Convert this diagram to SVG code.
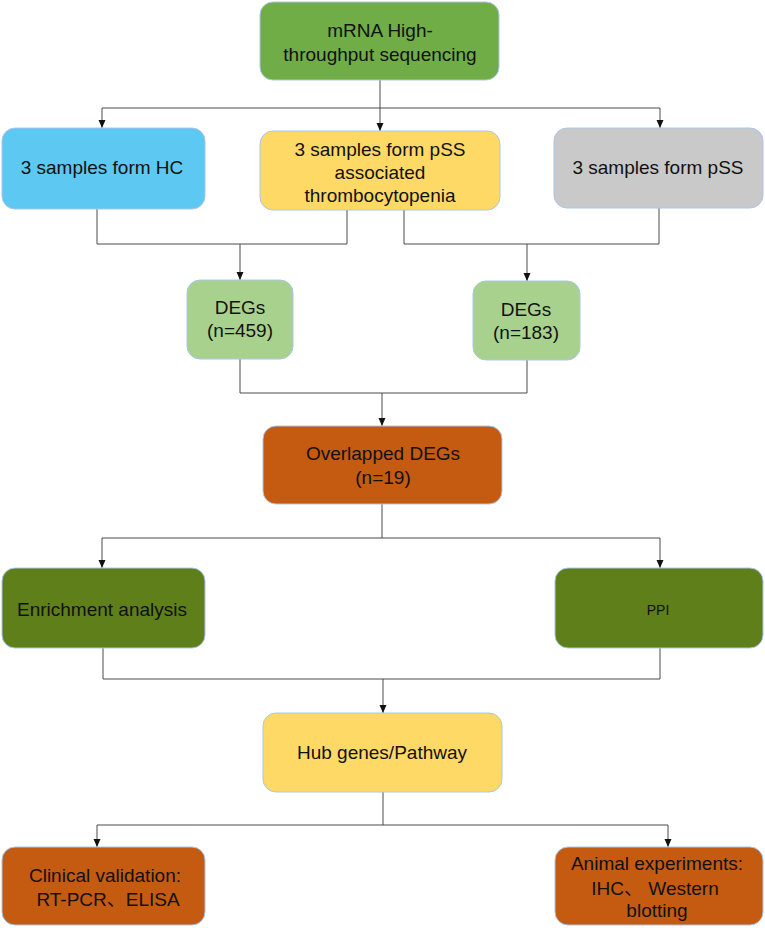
<svg xmlns="http://www.w3.org/2000/svg" width="765" height="928" viewBox="0 0 765 928">
<style>
.box{stroke:#A9C6EA;stroke-width:1}
.t{font-family:"Liberation Sans","Noto Sans CJK SC",Arial,sans-serif;font-size:19px;fill:#111;text-anchor:middle}
.s{font-size:14px}
.c{fill:none;stroke:#4a4a4a;stroke-width:1}
</style>
<defs>
<marker id="arr" viewBox="0 0 8 8" refX="8" refY="4" markerWidth="8" markerHeight="8" markerUnits="userSpaceOnUse" orient="auto">
<path d="M0,0.5 L8,4 L0,7.5 Z" fill="#111"/>
</marker>
</defs>
<rect width="765" height="928" fill="#fff"/>
<g id="connectors">
<path class="c" d="M380,80 V108 M102,108 H660"/>
<path class="c" d="M102,108 V128" marker-end="url(#arr)"/>
<path class="c" d="M380,108 V131" marker-end="url(#arr)"/>
<path class="c" d="M660,108 V128" marker-end="url(#arr)"/>
<path class="c" d="M97,209 V244 H347 V210"/>
<path class="c" d="M240,244 V280" marker-end="url(#arr)"/>
<path class="c" d="M404,210 V244 H659 V208"/>
<path class="c" d="M527,244 V281" marker-end="url(#arr)"/>
<path class="c" d="M240,359 V393 H527 V360"/>
<path class="c" d="M382,393 V426" marker-end="url(#arr)"/>
<path class="c" d="M382,504 V538 M102,538 H660"/>
<path class="c" d="M102,538 V568" marker-end="url(#arr)"/>
<path class="c" d="M660,538 V568" marker-end="url(#arr)"/>
<path class="c" d="M103,648 V679 H660 V648"/>
<path class="c" d="M383,679 V713" marker-end="url(#arr)"/>
<path class="c" d="M383,792 V825 M97,825 H668"/>
<path class="c" d="M97,825 V847" marker-end="url(#arr)"/>
<path class="c" d="M668,825 V847" marker-end="url(#arr)"/>
</g>
<g id="n_seq">
<rect class="box" x="260" y="2" width="239" height="78" rx="13" fill="#70AD47"/>
<text class="t" x="380" y="37">mRNA High-</text>
<text class="t" x="380" y="61">throughput sequencing</text>
</g>
<g id="n_hc">
<rect class="box" x="2" y="128" width="203" height="81" rx="13" fill="#5DC9F2"/>
<text class="t" x="102" y="174">3 samples form HC</text>
</g>
<g id="n_pssthr">
<rect class="box" x="260" y="131" width="240" height="79" rx="13" fill="#FFD966"/>
<text class="t" x="380" y="156">3 samples form pSS</text>
<text class="t" x="380" y="179">associated</text>
<text class="t" x="380" y="202">thrombocytopenia</text>
</g>
<g id="n_pss">
<rect class="box" x="554" y="128" width="209" height="80" rx="13" fill="#C9C9C9"/>
<text class="t" x="658" y="174">3 samples form pSS</text>
</g>
<g id="n_deg1">
<rect class="box" x="187" y="280" width="106" height="79" rx="13" fill="#A9D18E"/>
<text class="t" x="240" y="314">DEGs</text>
<text class="t" x="240" y="337">(n=459)</text>
</g>
<g id="n_deg2">
<rect class="box" x="473" y="281" width="107" height="79" rx="13" fill="#A9D18E"/>
<text class="t" x="526" y="316">DEGs</text>
<text class="t" x="526" y="339">(n=183)</text>
</g>
<g id="n_overlap">
<rect class="box" x="263" y="426" width="239" height="78" rx="13" fill="#C55A11"/>
<text class="t" x="383" y="460">Overlapped DEGs</text>
<text class="t" x="383" y="484">(n=19)</text>
</g>
<g id="n_enrich">
<rect class="box" x="2" y="568" width="203" height="80" rx="13" fill="#5F7F1A"/>
<text class="t" x="102" y="616">Enrichment analysis</text>
</g>
<g id="n_ppi">
<rect class="box" x="555" y="568" width="208" height="80" rx="13" fill="#5F7F1A"/>
<text class="t s" x="658" y="615">PPI</text>
</g>
<g id="n_hub">
<rect class="box" x="263" y="713" width="239" height="79" rx="13" fill="#FFD966"/>
<text class="t" x="382" y="759">Hub genes/Pathway</text>
</g>
<g id="n_clinical">
<rect class="box" x="2" y="847" width="203" height="78" rx="13" fill="#C55A11"/>
<text class="t" x="105" y="882">Clinical validation:</text>
<text class="t" x="108" y="906">RT-PCR、ELISA</text>
</g>
<g id="n_animal">
<rect class="box" x="555" y="847" width="208" height="78" rx="13" fill="#C55A11"/>
<text class="t" x="657" y="870">Animal experiments:</text>
<text class="t" x="655" y="895">IHC、 Western</text>
<text class="t" x="657" y="917">blotting</text>
</g>
</svg>
